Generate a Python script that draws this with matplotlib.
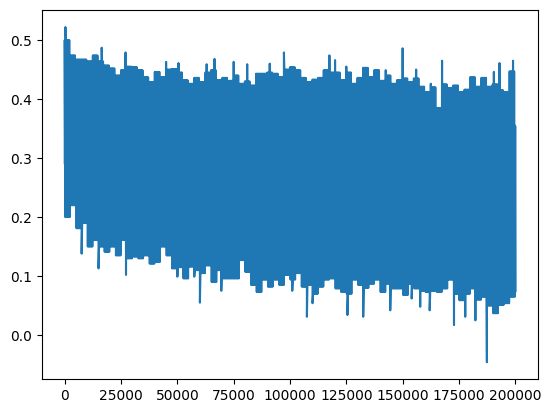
import matplotlib
matplotlib.use("Agg")
import matplotlib.pyplot as plt
import numpy as np

# ── values ───────────────────────────────────────────────────────────────────

# envelope knots, one every 2500 steps
steps = np.arange(0, 200001, 2500)

upper = [
    0.500, 0.474, 0.467, 0.467, 0.464, 0.474, 0.464, 0.457, 0.452, 0.440,
    0.449, 0.455, 0.454, 0.449, 0.437, 0.429, 0.446, 0.437, 0.450, 0.451,
    0.445, 0.432, 0.426, 0.436, 0.429, 0.445, 0.449, 0.432, 0.436, 0.431,
    0.440, 0.426, 0.430, 0.423, 0.443, 0.443, 0.445, 0.443, 0.437, 0.450,
    0.454, 0.449, 0.436, 0.429, 0.433, 0.436, 0.449, 0.445, 0.445, 0.432,
    0.445, 0.426, 0.436, 0.453, 0.437, 0.449, 0.431, 0.440, 0.426, 0.432,
    0.435, 0.429, 0.435, 0.421, 0.412, 0.420, 0.385, 0.425, 0.419, 0.423,
    0.412, 0.416, 0.437, 0.421, 0.436, 0.421, 0.425, 0.415, 0.412, 0.447,
    0.355,
]

lower = [
    0.200, 0.220, 0.181, 0.190, 0.150, 0.161, 0.150, 0.141, 0.150, 0.135,
    0.161, 0.130, 0.133, 0.130, 0.135, 0.121, 0.124, 0.150, 0.135, 0.113,
    0.115, 0.096, 0.116, 0.110, 0.105, 0.118, 0.090, 0.110, 0.096, 0.096,
    0.096, 0.127, 0.107, 0.085, 0.073, 0.094, 0.082, 0.094, 0.085, 0.102,
    0.094, 0.105, 0.082, 0.085, 0.070, 0.082, 0.094, 0.096, 0.079, 0.073,
    0.070, 0.094, 0.085, 0.080, 0.087, 0.094, 0.073, 0.087, 0.079, 0.079,
    0.068, 0.087, 0.079, 0.075, 0.073, 0.075, 0.073, 0.079, 0.094, 0.070,
    0.059, 0.070, 0.079, 0.060, 0.065, 0.050, 0.037, 0.051, 0.054, 0.065,
    0.073,
]

# isolated narrow spikes poking out of the band
spike_steps = [
    300, 16400, 27000, 45000, 50500, 63000, 66500, 75000, 81000, 91000,
    97300, 117500, 120000, 125000, 142500, 150000, 156000, 162500, 167500,
    190500, 193000, 199000,
    7500, 15000, 27200, 50000, 57500, 60000, 69500, 101000, 107500, 110000,
    125500, 132500, 144500, 154000, 157800, 162000, 172800, 177800, 182300,
    187400,
]
spike_values = [
    0.522, 0.487, 0.479, 0.463, 0.461, 0.459, 0.468, 0.463, 0.459, 0.460,
    0.479, 0.474, 0.466, 0.455, 0.449, 0.486, 0.450, 0.426, 0.465,
    0.446, 0.461, 0.465,
    0.138, 0.113, 0.102, 0.099, 0.099, 0.055, 0.075, 0.075, 0.031, 0.054,
    0.034, 0.031, 0.042, 0.062, 0.048, 0.042, 0.017, 0.031, 0.025,
    -0.046,
]

first_value = 0.291
last_value = 0.352

# ── build the trace: alternate between the band edges, then add the spikes ──

sub = 10  # points per knot interval
xs, ys = [0.0], [first_value]
for i in range(len(steps) - 1):
    local_x = np.linspace(steps[i], steps[i + 1], sub, endpoint=False)
    for j, x in enumerate(local_x):
        xs.append(x)
        ys.append(upper[i] if j % 2 == 0 else lower[i])
xs.extend([steps[-1] - 100, steps[-1]])
ys.extend([upper[-1], lower[-1]])
xs.append(steps[-1])
ys.append(last_value)

xs = np.array(xs + spike_steps, dtype=float)
ys = np.array(ys + spike_values, dtype=float)
order = np.argsort(xs, kind="stable")
xs, ys = xs[order], ys[order]

# ── plot ─────────────────────────────────────────────────────────────────────

fig = plt.figure(figsize=(5.51, 4.13), dpi=100)
ax = fig.add_axes([42.2 / 551, 34 / 413, 495.6 / 551, 368.7 / 413])
ax.plot(xs, ys)

fig.savefig("out.png", dpi=100)
